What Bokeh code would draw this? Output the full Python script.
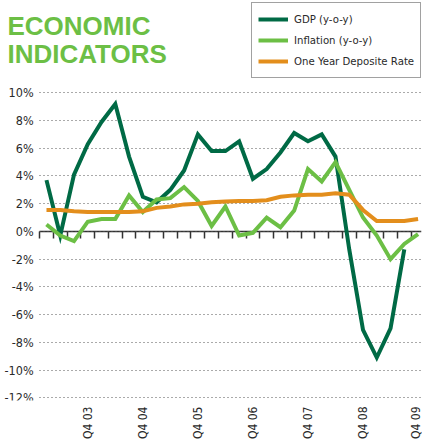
import math
from bokeh.plotting import figure
from bokeh.models import Range1d, FixedTicker, LinearAxis, Legend, LegendItem, Label
from bokeh.embed import file_html
from bokeh.resources import INLINE

# ---------------- data ----------------
quarters = ["Q1 03", "Q2 03", "Q3 03", "Q4 03",
            "Q1 04", "Q2 04", "Q3 04", "Q4 04",
            "Q1 05", "Q2 05", "Q3 05", "Q4 05",
            "Q1 06", "Q2 06", "Q3 06", "Q4 06",
            "Q1 07", "Q2 07", "Q3 07", "Q4 07",
            "Q1 08", "Q2 08", "Q3 08", "Q4 08",
            "Q1 09", "Q2 09", "Q3 09", "Q4 09"]
gdp = [3.7, -0.3, 4.1, 6.3, 7.9, 9.2, 5.4, 2.5, 2.1, 3.0, 4.4, 7.0,
       5.8, 5.8, 6.5, 3.8, 4.5, 5.7, 7.1, 6.5, 7.0, 5.4, -1.3, -7.1,
       -9.1, -7.0, -1.3, float("nan")]
inflation = [0.5, -0.3, -0.7, 0.7, 0.9, 0.9, 2.6, 1.4, 2.3, 2.4, 3.2, 2.2,
             0.4, 1.8, -0.3, -0.1, 1.0, 0.3, 1.5, 4.5, 3.6, 5.0, 3.0, 1.0,
             -0.3, -2.0, -0.9, -0.2]
deposit_rate = [1.55, 1.55, 1.45, 1.4, 1.4, 1.4, 1.4, 1.45, 1.7, 1.8, 1.95, 2.0,
                2.1, 2.15, 2.2, 2.2, 2.25, 2.5, 2.6, 2.65, 2.65, 2.75, 2.65, 1.55,
                0.75, 0.75, 0.75, 0.9]
series_names = ["GDP (y-o-y)", "Inflation (y-o-y)", "One Year Deposite Rate"]
title_lines = ["ECONOMIC", "INDICATORS"]
y_ticks = list(range(-12, 11, 2))
y_tick_labels = [f"{t}%" for t in y_ticks]

# -------------- derived positions --------------
x = list(range(len(quarters)))
x_label_pos = [i for i, q in enumerate(quarters) if q.startswith("Q4")]
x_label_txt = [q for q in quarters if q.startswith("Q4")]
boundaries = [i - 0.5 for i in range(len(quarters) + 1)]

# -------------- style / geometry --------------
FONT = "DejaVu Sans Condensed, Roboto, sans-serif"
TITLE_FONT = "Liberation Sans"
DARK = "#006a45"
LIGHT = "#6cbf45"
ORANGE = "#e38e1c"
TXT = "#2a2a2a"

W, H = 422, 442
BOTTOM, RIGHT = 40, 1
FRAME_W = W - RIGHT
FRAME_H = H - BOTTOM
DATA_LEFT_PX = 39.1        # where the first quarter boundary sits
DATA_TOP_PX = 90           # where y = 10.2 sits (from top)
X0, X1 = -0.5, 27.25
Y0, Y1 = -12.2, 10.2
px_x = (FRAME_W - DATA_LEFT_PX) / (X1 - X0)
px_y = (FRAME_H - DATA_TOP_PX) / (Y1 - Y0)
X_START = X0 - DATA_LEFT_PX / px_x
Y_END = Y1 + DATA_TOP_PX / px_y

p = figure(width=W, height=H, output_backend="svg", toolbar_location=None,
           x_range=Range1d(X_START, X1), y_range=Range1d(Y0, Y_END),
           x_axis_location=None, y_axis_location="left",
           min_border_top=0, min_border_bottom=BOTTOM,
           min_border_left=0, min_border_right=RIGHT)
p.outline_line_color = None
p.background_fill_color = "white"
p.border_fill_color = "white"
p.xgrid.visible = False
p.ygrid.visible = False

# y axis: labels + dotted "grid" drawn as long inward ticks
p.yaxis.fixed_location = X0
p.yaxis.ticker = FixedTicker(ticks=y_ticks)
p.yaxis.major_label_overrides = dict(zip(y_ticks, y_tick_labels))
p.yaxis.axis_line_color = None
p.yaxis.major_tick_line_color = "#555555"
p.yaxis.major_tick_line_dash = "1 3"
p.yaxis.major_tick_line_width = 1.2
p.yaxis.major_tick_in = int(round(FRAME_W - DATA_LEFT_PX))
p.yaxis.major_tick_out = 0
p.yaxis.minor_tick_line_color = None
p.yaxis.major_label_standoff = 6
p.yaxis.major_label_text_font = FONT
p.yaxis.major_label_text_font_size = "12.5px"
p.yaxis.major_label_text_color = TXT
p.yaxis.level = "underlay"

# zero axis with quarter ticks
zero_axis = LinearAxis(ticker=FixedTicker(ticks=boundaries), fixed_location=0,
                       bounds=(X0, X1))
zero_axis.axis_line_color = "#333333"
zero_axis.axis_line_width = 1.6
zero_axis.major_tick_line_color = "#333333"
zero_axis.major_tick_line_width = 1.5
zero_axis.major_tick_out = 7
zero_axis.major_tick_in = 0
zero_axis.minor_tick_line_color = None
zero_axis.major_label_text_color = None
zero_axis.level = "underlay"
p.add_layout(zero_axis, "below")

# label axis
label_axis = LinearAxis(ticker=FixedTicker(ticks=x_label_pos))
label_axis.major_label_overrides = dict(zip(x_label_pos, x_label_txt))
label_axis.axis_line_color = None
label_axis.major_tick_line_color = None
label_axis.minor_tick_line_color = None
label_axis.major_tick_out = 0
label_axis.major_tick_in = 0
label_axis.major_label_standoff = 6
label_axis.major_label_orientation = math.pi / 2
label_axis.major_label_text_font = FONT
label_axis.major_label_text_font_size = "12px"
label_axis.major_label_text_color = TXT
p.add_layout(label_axis, "below")

# lines
r_gdp = p.line(x, gdp, line_color=DARK, line_width=4, line_join="miter")
r_inf = p.line(x, inflation, line_color=LIGHT, line_width=4, line_join="miter")
r_dep = p.line(x, deposit_rate, line_color=ORANGE, line_width=4, line_join="miter")

legend = Legend(items=[LegendItem(label=series_names[0], renderers=[r_gdp]),
                       LegendItem(label=series_names[1], renderers=[r_inf]),
                       LegendItem(label=series_names[2], renderers=[r_dep])],
                location=(251, FRAME_H - 80))
legend.border_line_color = "#444444"
legend.border_line_width = 1.3
legend.background_fill_color = "white"
legend.background_fill_alpha = 1
legend.padding = 6
legend.spacing = 1
legend.glyph_width = 30
legend.glyph_height = 20
legend.label_height = 20
legend.label_standoff = 6
legend.label_text_font = FONT
legend.label_text_font_size = "11.3px"
legend.label_text_color = TXT
legend.margin = 0
p.add_layout(legend)

# title (two lines)
for txt, base in zip(title_lines, [27, 55]):
    p.add_layout(Label(x=7, y=FRAME_H - base, x_units="screen", y_units="screen",
                       text=txt, text_font=TITLE_FONT, text_font_size="26px",
                       text_font_style="bold", text_color=LIGHT,
                       text_baseline="alphabetic", text_align="left"))

open("out.html", "w").write(file_html(p, INLINE))
